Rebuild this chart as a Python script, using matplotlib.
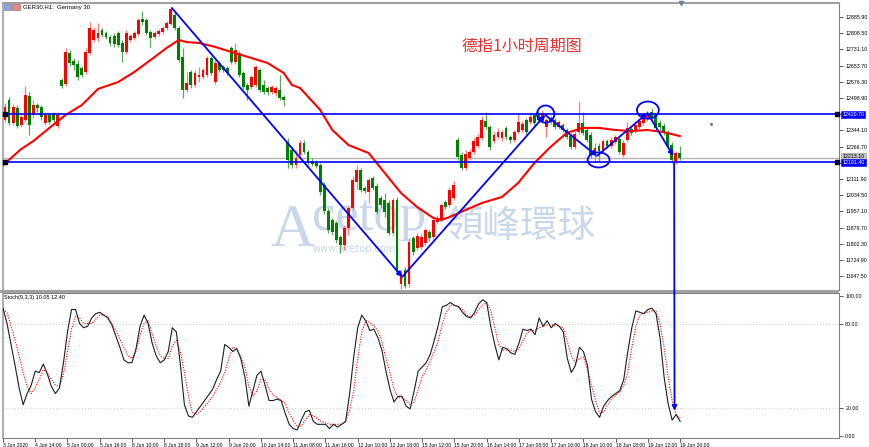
import numpy as np
import matplotlib
matplotlib.use('Agg')
import matplotlib.pyplot as plt
from matplotlib.patches import Ellipse, Rectangle, ConnectionPatch

# GER30 H1 candles (open, high, low, close)
o_ = [12418, 12394, 12489, 12379, 12451, 12370, 12394, 12508, 12418, 12465, 12456, 12379, 12418, 12427, 12365,
      12585, 12566, 12714, 12676, 12661, 12642, 12623, 12714, 12776, 12786, 12824, 12809, 12790, 12795, 12809,
      12762, 12719, 12776, 12786, 12805, 12876, 12872, 12814, 12790, 12805, 12814, 12833, 12852, 12895, 12833,
      12695, 12537, 12623, 12561, 12599, 12599, 12609, 12690, 12575, 12666, 12647, 12642, 12738, 12671, 12714,
      12618, 12561, 12551, 12561, 12633, 12561, 12547, 12528, 12523, 12537, 12504, 12289, 12250, 12179, 12227,
      12284, 12241, 12198, 12188, 12179, 12083, 11959, 11916, 11902, 11835, 11796, 11878, 11973, 12098, 12155,
      12069, 12050, 12117, 12078, 12021, 12011, 11997, 11854, 12011, 11610, 11677, 11610, 11830, 11782, 11787,
      11806, 11859, 11835, 11906, 11916, 12002, 11988, 12021, 12298, 12227, 12164, 12212, 12241, 12270, 12308,
      12389, 12360, 12293, 12313, 12308, 12356, 12313, 12298, 12336, 12346, 12394, 12384, 12418, 12427, 12394,
      12360, 12403, 12394, 12360, 12370, 12346, 12317, 12265, 12336, 12379, 12346, 12322, 12227, 12270, 12250,
      12293, 12270, 12289, 12303, 12227, 12298, 12351, 12341, 12360, 12379, 12398, 12432, 12418, 12379, 12365,
      12332, 12274, 12198, 12236]
h_ = [12465, 12475, 12504, 12470, 12465, 12422, 12556, 12528, 12489, 12475, 12465, 12432, 12427, 12432, 12432,
      12594, 12738, 12728, 12690, 12680, 12652, 12738, 12862, 12838, 12857, 12833, 12819, 12800, 12809, 12819,
      12776, 12824, 12805, 12819, 12881, 12915, 12881, 12824, 12819, 12829, 12843, 12867, 12934, 12910, 12843,
      12738, 12623, 12633, 12633, 12647, 12642, 12700, 12700, 12680, 12676, 12656, 12652, 12747, 12762, 12723,
      12628, 12571, 12609, 12656, 12642, 12585, 12556, 12561, 12556, 12609, 12513, 12308, 12264, 12250, 12298,
      12298, 12250, 12212, 12203, 12188, 12098, 11973, 11926, 11911, 11844, 11892, 11983, 12126, 12179, 12164,
      12078, 12117, 12126, 12093, 12031, 12045, 12011, 12021, 12026, 11677, 11691, 11830, 11840, 11854, 11849,
      11878, 11868, 11930, 11940, 11997, 12011, 12074, 12102, 12313, 12241, 12250, 12255, 12308, 12327, 12413,
      12432, 12370, 12336, 12356, 12346, 12365, 12322, 12346, 12427, 12389, 12403, 12422, 12427, 12437, 12442,
      12403, 12413, 12403, 12394, 12379, 12356, 12332, 12341, 12480, 12432, 12356, 12336, 12284, 12284, 12303,
      12303, 12313, 12322, 12313, 12298, 12384, 12360, 12379, 12398, 12422, 12437, 12451, 12427, 12394, 12379,
      12346, 12289, 12246, 12270]
l_ = [12403, 12384, 12370, 12370, 12356, 12360, 12384, 12322, 12403, 12432, 12394, 12370, 12375, 12384, 12356,
      12547, 12556, 12652, 12633, 12585, 12599, 12614, 12704, 12766, 12771, 12790, 12781, 12747, 12743, 12743,
      12671, 12709, 12766, 12776, 12795, 12848, 12800, 12743, 12781, 12795, 12805, 12824, 12848, 12824, 12671,
      12499, 12528, 12547, 12551, 12575, 12590, 12599, 12609, 12566, 12623, 12623, 12609, 12661, 12661, 12599,
      12542, 12489, 12542, 12551, 12528, 12518, 12513, 12518, 12508, 12489, 12461, 12164, 12164, 12164, 12217,
      12231, 12179, 12174, 12164, 12035, 11945, 11854, 11844, 11806, 11758, 11773, 11844, 11964, 12064, 12050,
      12045, 11997, 12059, 11945, 11978, 11930, 11844, 11844, 11653, 11586, 11591, 11596, 11749, 11773, 11777,
      11796, 11816, 11825, 11897, 11906, 11969, 11978, 12011, 12203, 12155, 12155, 12203, 12231, 12260, 12298,
      12351, 12250, 12284, 12303, 12293, 12303, 12284, 12289, 12327, 12336, 12327, 12375, 12365, 12384, 12384,
      12313, 12375, 12351, 12351, 12336, 12303, 12255, 12255, 12327, 12322, 12289, 12212, 12193, 12198, 12241,
      12260, 12260, 12279, 12231, 12217, 12289, 12322, 12332, 12351, 12370, 12389, 12398, 12346, 12346, 12322,
      12260, 12188, 12184, 12203]
c_ = [12442, 12456, 12379, 12456, 12365, 12408, 12513, 12370, 12465, 12451, 12408, 12418, 12384, 12394, 12418,
      12556, 12719, 12666, 12657, 12599, 12609, 12719, 12833, 12824, 12809, 12800, 12790, 12762, 12757, 12752,
      12719, 12809, 12795, 12809, 12872, 12862, 12809, 12786, 12809, 12819, 12833, 12857, 12924, 12833, 12680,
      12537, 12571, 12561, 12618, 12609, 12633, 12690, 12618, 12666, 12633, 12633, 12618, 12671, 12728, 12609,
      12551, 12537, 12599, 12647, 12537, 12528, 12528, 12551, 12547, 12499, 12489, 12203, 12179, 12212, 12284,
      12241, 12188, 12184, 12174, 12050, 11959, 11868, 11859, 11820, 11796, 11878, 11973, 12107, 12155, 12059,
      12055, 12107, 12069, 11954, 11988, 11954, 11854, 12011, 11667, 11658, 11601, 11811, 11763, 11840, 11835,
      11868, 11830, 11916, 11926, 11988, 11978, 12059, 12083, 12217, 12164, 12231, 12241, 12293, 12313, 12394,
      12360, 12265, 12322, 12336, 12336, 12313, 12298, 12336, 12384, 12375, 12336, 12408, 12379, 12394, 12427,
      12394, 12384, 12360, 12384, 12346, 12313, 12265, 12327, 12379, 12332, 12298, 12227, 12260, 12246, 12293,
      12270, 12298, 12313, 12241, 12284, 12356, 12332, 12370, 12389, 12413, 12422, 12408, 12356, 12360, 12336,
      12270, 12203, 12236, 12213.1]

# red moving average, sampled along the curve (bar index, price)
ma_bar = [0, 5, 8, 12, 16, 20, 24, 29, 33, 37, 41, 44, 46, 49, 53, 57, 62, 66, 70, 72, 74, 79, 82, 86, 91,
          95, 99, 103, 107, 109, 111, 115, 119, 124, 128, 132, 136, 140, 144, 148, 152, 156, 160, 164, 168]
ma_val = [12169, 12255, 12293, 12356, 12418, 12465, 12542, 12575, 12623, 12680, 12738, 12776, 12766, 12762,
          12743, 12719, 12690, 12666, 12618, 12561, 12547, 12442, 12346, 12274, 12236, 12140, 12045, 11978,
          11926, 11916, 11930, 11964, 11997, 12026, 12093, 12188, 12265, 12332, 12356, 12356, 12346, 12341,
          12346, 12336, 12317]

# Stoch(9,3,3): main and signal, one value per bar
stoch_k = [91, 80, 65, 50, 34, 22, 30, 36, 46, 45, 51, 44, 35, 30, 34, 52, 74, 90, 90, 80, 77, 78, 84, 87, 88,
           86, 84, 79, 71, 63, 54, 52, 52, 62, 78, 86, 80, 66, 57, 52, 54, 60, 77, 74, 51, 22, 14, 13, 17, 21,
           25, 29, 33, 40, 46, 65, 63, 60, 62, 55, 42, 21, 32, 43, 46, 36, 25, 25, 26, 25, 16, 8, 5, 4, 11, 17,
           18, 10, 8, 8, 8, 5, 8, 6, 8, 10, 30, 56, 77, 86, 82, 75, 76, 70, 61, 46, 33, 24, 28, 28, 21, 19, 32,
           46, 49, 52, 58, 68, 79, 92, 93, 95, 93, 92, 88, 85, 84, 88, 94, 97, 95, 78, 65, 54, 63, 62, 59, 58,
           66, 76, 75, 76, 72, 84, 78, 82, 77, 80, 78, 74, 55, 45, 50, 63, 60, 50, 26, 17, 13, 21, 25, 28, 30,
           32, 40, 60, 77, 89, 88, 87, 90, 91, 87, 70, 42, 23, 11, 15, 10.05]
stoch_d = [90, 88, 78, 68, 57, 45, 35, 30, 34, 40, 47, 45, 40, 36, 35, 44, 60, 76, 85, 84, 80, 80, 80, 83, 86,
           86, 85, 80, 75, 69, 63, 57, 55, 60, 72, 80, 82, 73, 64, 57, 55, 55, 64, 68, 60, 45, 28, 16, 15, 17,
           21, 24, 28, 33, 38, 45, 55, 63, 62, 56, 49, 35, 28, 32, 40, 40, 33, 29, 27, 25, 23, 16, 11, 6, 7, 11,
           15, 14, 12, 10, 9, 8, 8, 8, 8, 10, 18, 32, 55, 74, 82, 81, 78, 75, 67, 55, 45, 33, 27, 27, 25, 22, 24,
           33, 42, 47, 53, 60, 68, 80, 88, 93, 93, 92, 90, 86, 85, 86, 90, 93, 95, 89, 77, 65, 61, 61, 61, 60,
           62, 68, 73, 75, 75, 77, 78, 79, 79, 79, 78, 77, 67, 57, 52, 55, 56, 47, 36, 25, 16, 17, 22, 26, 29,
           31, 36, 45, 63, 78, 86, 88, 88, 89, 89, 80, 63, 42, 25, 15, 12.40]

price_ticks = [12885.90, 12808.50, 12731.10, 12653.70, 12576.30, 12498.90, 12421.50, 12344.10, 12266.70,
               12189.30, 12111.90, 12034.50, 11957.10, 11879.70, 11802.30, 11724.90, 11647.50]
hidden_ticks = [12421.50, 12189.30]   # covered by the level labels
time_labels = ['3 Jun 2020', '4 Jun 14:00', '5 Jun 00:00', '5 Jun 16:00', '8 Jun 10:00', '8 Jun 18:00',
               '9 Jun 12:00', '9 Jun 20:00', '10 Jun 14:00', '11 Jun 08:00', '11 Jun 16:00', '12 Jun 10:00',
               '12 Jun 18:00', '15 Jun 12:00', '15 Jun 20:00', '16 Jun 14:00', '17 Jun 08:00', '17 Jun 16:00',
               '18 Jun 10:00', '18 Jun 18:00', '19 Jun 12:00', '19 Jun 20:00']
time_label_bars = list(range(0, 169, 8))

# drawn objects: horizontal levels, bid, trend lines (bar, price), circles
levels = [12420.70, 12191.40]
bid = 12213.10
trend_lines = [((42.3, 12929), (99.3, 11644)),
               ((99.3, 11644), (134.7, 12418)),
               ((134.7, 12418), (147.5, 12222)),
               ((147.5, 12222), (160.0, 12427)),
               ((160.0, 12427), (166.4, 12222))]
circles = [(134.8, 12422, 4.3, 82), (147.9, 12203, 5.4, 72), (160.1, 12441, 5.4, 82)]
drop_bar, drop_from, drop_to = 166.6, 12188, 17.7

W, H = 870, 447
narrow = ['Liberation Sans Narrow', 'Liberation Sans']
blue = '#0000ff'


def box(x0, y0, x1, y1):
    return [x0 / W, 1 - y1 / H, (x1 - x0) / W, (y1 - y0) / H]


fig = plt.figure(figsize=(W / 100, H / 100), dpi=100)
fig.patch.set_facecolor('white')
ax = fig.add_axes(box(3, 3, 839, 290))
ax2 = fig.add_axes(box(3, 293, 839, 437.5))

xl = (0.5, 207.4)
o = np.array(o_); h = np.array(h_); l = np.array(l_); c = np.array(c_)
idx = np.arange(len(c))
up = c >= o

# candles: red = up, green = down
ax.vlines(idx, l, h, colors=np.where(up, '#ff7a7a', '#5aa85a'), lw=0.9, zorder=3)
ax.bar(idx, np.maximum(np.abs(c - o), 3), bottom=np.minimum(o, c), width=0.7,
       color=np.where(up, '#ff0000', '#008000'), lw=0, zorder=4)

ax.plot(ma_bar, ma_val, color='#ff0000', lw=1.5, zorder=5)

for lvl in levels:
    ax.axhline(lvl, color=blue, lw=1.2, zorder=6)
    ax.plot([xl[0] + 0.4, xl[1] - 0.4], [lvl, lvl], 's', ms=2.5, color='#000030', zorder=7, clip_on=False)
ax.axhline(bid, color='#b4b4b4', lw=1, zorder=2)

for p0, p1 in trend_lines:
    ax.annotate('', xy=p1, xytext=p0, zorder=8,
                arrowprops=dict(arrowstyle='-|>', color=blue, lw=1.3, mutation_scale=7, shrinkA=0, shrinkB=0))
for cx, cy, w, hh in circles:
    ax.add_patch(Ellipse((cx, cy), w, hh, fill=False, ec=blue, lw=1.3, zorder=8))

con = ConnectionPatch(xyA=(drop_bar, drop_from), coordsA=ax.transData,
                      xyB=(drop_bar, drop_to), coordsB=ax2.transData,
                      arrowstyle='-|>', color=blue, lw=1.3, mutation_scale=7, zorder=9)
fig.add_artist(con)

ax.plot(168.3, 12952, marker='v', ms=3, color='#7080a0', clip_on=False, zorder=9)
ax.plot(175.7, 12375, marker='s', ms=1, color='#707070', zorder=9)

# watermark
wm = '#c8d8ea'
ax.text(270 / W, 1 - 246 / H, 'A', transform=fig.transFigure, fontsize=44, family='Liberation Serif',
        color=wm, va='baseline', zorder=1)
ax.text(312 / W, 1 - 230 / H, 'cetop', transform=fig.transFigure, fontsize=38, family='Liberation Serif',
        color=wm, va='baseline', zorder=1)
ax.text(313 / W, 1 - 249 / H, 'www.acetop.com', transform=fig.transFigure, fontsize=7,
        color=wm, va='center', zorder=1)
ax.text(446 / W, 1 - 226 / H, '領峰環球', transform=fig.transFigure, fontsize=27,
        family=['Noto Sans CJK TC', 'DejaVu Sans'], color=wm, va='center', zorder=1)

fig.text(462 / W, 1 - 46 / H, '德指1小时周期图', fontsize=11.5, color='#ee3030',
         family=['Noto Sans CJK SC', 'DejaVu Sans'], va='center')

ax.set_xlim(*xl)
ax.set_ylim(11581.5, 12952.8)
ax.set_xticks([])
ax.yaxis.tick_right()
ax.set_yticks(price_ticks)
ax.set_yticklabels(['' if v in hidden_ticks else f'{v:.2f}' for v in price_ticks], fontsize=3.8, family=narrow)
ax.tick_params(axis='y', length=3, width=0.6, pad=1.5, color='#404040')

lab_kw = dict(transform=ax.get_yaxis_transform(), fontsize=3.8, family=narrow, va='center', ha='left', zorder=10)
ax.text(1.004, bid + 4, f'{bid:.2f}', color='black', clip_on=False,
        bbox=dict(boxstyle='square,pad=0.2', fc='#c4c4c4', ec='#909090', lw=0.4), **lab_kw)
for lvl in levels:
    ax.text(1.004, lvl, f'{lvl:.2f}', color='white', clip_on=False,
            bbox=dict(boxstyle='square,pad=0.2', fc=blue, ec=blue, lw=0.4), **lab_kw)

# stochastic panel
ax2.plot(idx, stoch_k, color='#1e1e1e', lw=0.8, zorder=3)
ax2.plot(idx, stoch_d, color='#ff0000', lw=0.8, ls=(0, (1, 1.3)), zorder=2)
for lv in (20, 80):
    ax2.axhline(lv, color='#b8b8b8', lw=0.6, ls=(0, (1, 2.5)), zorder=1)
ax2.set_xlim(*xl)
ax2.set_ylim(-1.4, 101.8)
ax2.yaxis.tick_right()
ax2.set_yticks([0, 20, 80, 100])
ax2.set_yticklabels(['0.00', '20.00', '80.00', '100.00'], fontsize=3.8, family=narrow)
ax2.tick_params(axis='y', length=3, width=0.6, pad=1.5, color='#404040')
ax2.set_xticks(time_label_bars)
ax2.set_xticklabels(time_labels, fontsize=3.6, family=narrow)
for t in ax2.get_xticklabels():
    t.set_ha('left')
ax2.tick_params(axis='x', length=3, width=0.6, pad=1, color='#404040')

for a in (ax, ax2):
    for s in a.spines.values():
        s.set_color('#808080')
        s.set_linewidth(0.8)
    a.spines['left'].set_color('#b0b0b0')
    a.spines['left'].set_linewidth(1.5)
ax.spines['top'].set_color('#a0a0a0')
ax.spines['top'].set_linewidth(1.5)

fig.add_artist(Rectangle((0, 1 - 293 / H), 839 / W, 3 / H, transform=fig.transFigure, fc='#a0a0a0', ec='none'))

fig.add_artist(Rectangle((4 / W, 1 - 10 / H), 7 / W, 6 / H, transform=fig.transFigure, fc='#8ea6d8', ec='#5070b0', lw=0.4))
fig.add_artist(Rectangle((12 / W, 1 - 10 / H), 8 / W, 6 / H, transform=fig.transFigure, fc='#e08a8a', ec='#b05050', lw=0.4))
fig.text(23 / W, 1 - 7 / H, 'GER30,H1:  Germany 30', fontsize=4.3, family=narrow, va='center')
fig.text(4 / W, 1 - 297 / H, 'Stoch(9,3,3) 10.05 12.40', fontsize=4, family=narrow, va='center')

fig.savefig('out.png', dpi=100)
